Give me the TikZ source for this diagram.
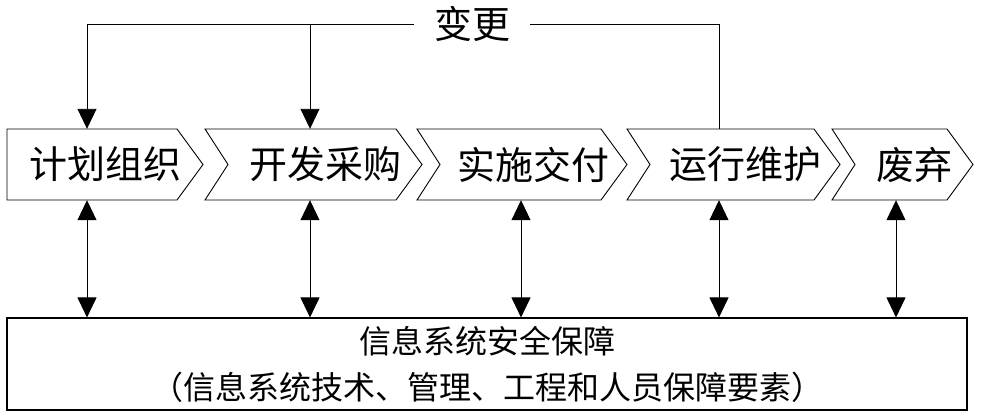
\documentclass[tikz,border=0pt]{standalone}
\usepackage{fontspec}
\setmainfont{Noto Sans CJK SC}
\usepackage{tikz}
\usetikzlibrary{arrows.meta,positioning}

\begin{document}
\begin{tikzpicture}[
    x=1pt,y=-1pt,
    phase/.style={draw,line width=0.9pt},
    phasetext/.style={minimum height=71pt,inner sep=0pt,font=\fontsize{38}{40}\selectfont},
    link/.style={line width=0.9pt},
    arrow/.style={-{Triangle[length=20pt,width=19pt]},line width=0.9pt},
    dblarrow/.style={{Triangle[length=20pt,width=19pt]}-{Triangle[length=20pt,width=19pt]},line width=0.9pt},
    guardbox/.style={draw,line width=1.1pt,minimum width=960pt,minimum height=92pt,inner sep=0pt,align=center,font=\fontsize{32}{46}\selectfont}
]
\useasboundingbox (0,0) rectangle (985,418);
% life-cycle phases
\draw[phase] (7,129) -- (177,129) -- (203,164.5) -- (177,200) -- (7,200) -- cycle;
\node[phasetext] (plan) at (105,164.5) {计划组织};
\foreach \a/\b/\t/\n in {205/422/开发采购/dev,417/627/实施交付/impl,627/840/运行维护/ops,832/973/废弃/drop}{
  \draw[phase] (\a,129) -- (\b-26,129) -- (\b,164.5) -- (\b-26,200) -- (\a,200) -- (\a+23,164.5) -- cycle;
  \node[phasetext] (\n) at ({(\a+23+\b)/2},164.5) {\t};
}
% change feedback
\node[font=\fontsize{38}{40}\selectfont,inner xsep=20pt,inner ysep=0pt] (chg) at (472,24) {变更};
\draw[arrow] (chg.west) -| ([xshift=-18pt]plan.north);
\draw[arrow] ([xshift=-15pt]dev.north |- chg.west) -- ([xshift=-15pt]dev.north);
\draw[link] (chg.east) -| ([xshift=-26pt]ops.north);
% assurance
\node[guardbox] (guard) at (487,364) {信息系统安全保障\\（信息系统技术、管理、工程和人员保障要素）};
\foreach \n/\s in {plan/-18pt,dev/-15pt,impl/-12.5pt,ops/-26pt,drop/-18pt}
  \draw[dblarrow] ([xshift=\s]\n.south) -- ([xshift=\s]\n.south |- guard.north);
\end{tikzpicture}
\end{document}
